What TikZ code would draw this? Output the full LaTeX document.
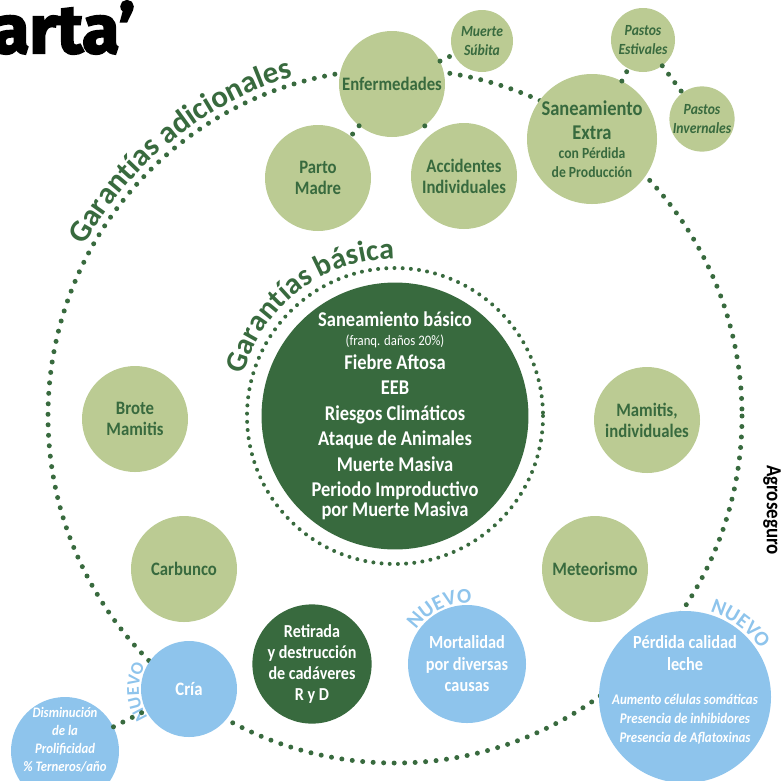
\documentclass[tikz,border=0pt]{standalone}
\usepackage{fontspec}
\setmainfont{Carlito}[FakeStretch=0.88]
\newfontfamily\arcfont{Carlito}
\newfontfamily\titlefont{Fira Sans}[BoldFeatures={FakeBold=3}]
\usetikzlibrary{decorations.text}
\definecolor{ltgreen}{HTML}{BBCB93}
\definecolor{dkgreen}{HTML}{386A3E}
\definecolor{ltblue}{HTML}{8EC4EC}
\newcommand\bigarc{\arcfont\bfseries\fontsize{31}{31}\selectfont}
\newcommand\midarc{\arcfont\bfseries\fontsize{30}{30}\selectfont}
\newcommand\nuevofont{\arcfont\bfseries\fontsize{21}{21}\selectfont}
\newcommand\smallnuevo{\arcfont\bfseries\fontsize{18}{18}\selectfont}
\newcommand\itsmall{\bfseries\itshape\fontsize{14.7}{18}\selectfont}

\begin{document}
\begin{tikzpicture}
	[x=1pt,y=-1pt,
	 dots/.style={draw=dkgreen,line width=5pt,line cap=round,dash pattern=on 0pt off 10.5pt},
	 smalldots/.style={draw=dkgreen,line width=4pt,line cap=round,dash pattern=on 0pt off 8.2pt},
	 bubble/.style={circle,fill=ltgreen,text=dkgreen,inner sep=0pt,align=center,minimum size=106pt,
	   font=\fontsize{19}{21}\selectfont\bfseries},
	 smallbubble/.style={bubble,minimum size=63pt,font=\fontsize{15.5}{19}\selectfont\bfseries\itshape},
	 darkbubble/.style={bubble,fill=dkgreen,text=white},
	 bluebubble/.style={bubble,fill=ltblue,text=white},
	 arctext/.style={decorate,decoration={text along path,text align=center,text color=dkgreen,text={#1}}},
	 nuevo/.style={arctext={#1},decoration={text color=ltblue}}]
\useasboundingbox (0,0) rectangle (783,780);

% rings
\draw[dots] (395,416) circle[radius=347];
\draw[smalldots] (395,416) circle[radius=148];
\path[arctext={|\bigarc|Garantías adicionales}]
  (395,416) ++(-165:354) arc[start angle=-165,end angle=-93,radius=354];
\path[arctext={|\midarc|Garantías básica}]
  (395,416) ++(-190:157) arc[start angle=-190,end angle=-65,radius=157];

% adicionales
\node[bubble] (enf) at (392,84) {Enfermedades};
\node[smallbubble,minimum size=62pt] (subita) at (482,41) {Muerte\\ Súbita};
\node[bubble] (parto) at (318,178) {Parto\\ Madre};
\node[bubble] (acc) at (464,176) {Accidentes\\ Individuales};
\node[bubble,minimum size=130pt,font=\fontsize{21}{24}\selectfont\bfseries] (extra) at (592,139)
  {Saneamiento\\ Extra\\[-5pt] {\fontsize{15.5}{19}\selectfont con Pérdida}\\[-5pt]
   {\fontsize{15.5}{19}\selectfont de Producción}};
\node[smallbubble,minimum size=64pt] (estiv) at (643,40) {Pastos\\ Estivales};
\node[smallbubble,minimum size=64pt] (inver) at (702,119) {Pastos\\ Invernales};
\node[bubble] (brote) at (135,419) {Brote\\ Mamitis};
\node[bubble] (carb) at (184,569) {Carbunco};
\node[bubble] (mamit) at (647,420) {Mamitis,\\ individuales};
\node[bubble] (meteo) at (595,569) {Meteorismo};

% basica
\node[darkbubble,minimum size=266pt,font=\fontsize{21}{25.5}\selectfont\bfseries] (basica) at (395,416)
  {Saneamiento básico\\[-6.5pt]
   {\mdseries\fontsize{14.5}{15}\selectfont(franq. daños 20\%)}\\[-1.5pt]
   Fiebre Aftosa\\ EEB\\ Riesgos Climáticos\\ Ataque de Animales\\ Muerte Masiva\\
   Periodo Improductivo\\[-5.5pt] por Muerte Masiva};
\node[darkbubble,minimum size=100pt,font=\fontsize{18.3}{21.3}\selectfont\bfseries] (retir) at (312,664)
  {Retirada\\ y destrucción\\ de cadáveres\\ R y D};

% nuevas
\node[bluebubble,minimum size=96pt] (cria) at (189,689) {Cría};
\node[bluebubble,minimum size=108pt] (dismi) at (65,751) {};
\node[align=center,text=white,font=\fontsize{14.5}{18}\selectfont\bfseries\itshape] (dismitxt) at (65,740)
  {Disminución\\ de la\\ Prolificidad\\ \% Terneros/año};
\node[bluebubble,minimum size=118pt,font=\fontsize{18.5}{21.5}\selectfont\bfseries] (mort) at (467,664)
  {Mortalidad\\ por diversas\\ causas};
\node[bluebubble,minimum size=172pt] (leche) at (685,697) {};
\node[align=center,text=white,font=\fontsize{18.5}{22}\selectfont\bfseries] (lechetxt) at (685,690)
  {Pérdida calidad\\ leche\\[12pt] {\itsmall Aumento células somáticas}\\[-3pt]
   {\itsmall Presencia de inhibidores}\\[-3.5pt] {\itsmall Presencia de Aflatoxinas}};
\path[nuevo={|\smallnuevo|NUEVO}] (189,689) ++(-228:50) arc[start angle=-228,end angle=-138,radius=50];
\path[nuevo={|\nuevofont|NUEVO}] (467,664) ++(-160:61) arc[start angle=-160,end angle=-72,radius=61];
\path[nuevo={|\nuevofont|NUEVO}] (685,697) ++(-100:89) arc[start angle=-100,end angle=-6,radius=89];

\foreach \a/\b in {enf/subita,enf/parto,enf/acc,extra/estiv,estiv/inver,dismi/cria}
  \draw[dots] (\a) -- (\b);

\node[anchor=base west,inner sep=0pt,font=\titlefont\bfseries\fontsize{68}{68}\selectfont] (titulo) at (-8,53) {arta’};
\node[rotate=-90,font=\fontsize{21.5}{21.5}\selectfont\bfseries] (firma) at (772,510) {Agroseguro};
\end{tikzpicture}
\end{document}
